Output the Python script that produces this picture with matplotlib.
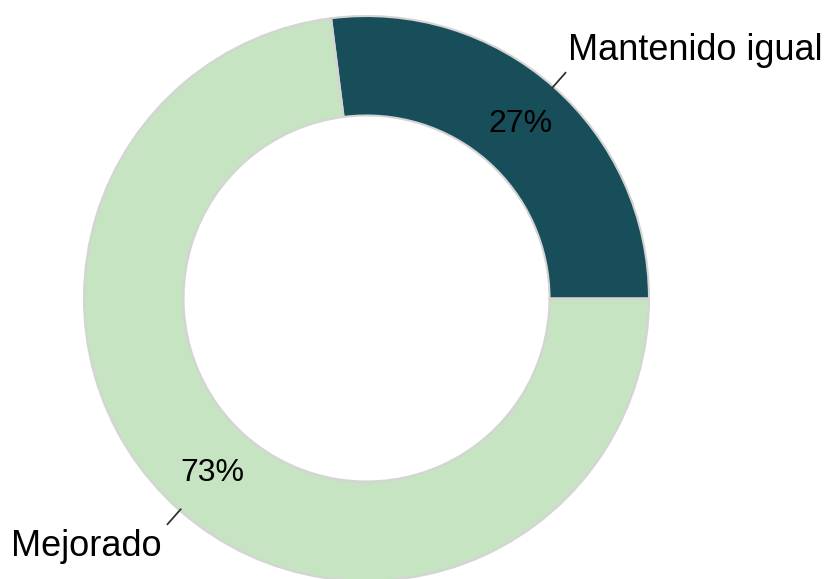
import numpy as np
import matplotlib
matplotlib.use('Agg')
import matplotlib.pyplot as plt

plt.rcParams['font.family'] = ['Liberation Sans', 'DejaVu Sans']

# Datos
categorias = ['Mantenido igual', 'Mejorado']
valores = [27, 73]
colores = ['#174E59', '#C6E3C2']

fig = plt.figure(figsize=(8.30, 5.79), dpi=100)
ax = fig.add_axes([0, 0, 1, 1])

# geometría en píxeles
cx, cy = 366.5, 280.5
radio = 282.5
ancho = radio - 183

wedges, _ = ax.pie(valores, colors=colores, startangle=0, counterclock=True,
                   radius=radio, center=(cx, cy),
                   wedgeprops=dict(width=ancho, edgecolor='#d4d4d4', linewidth=1.5))

r_pct = radio - ancho / 2
for w, v, cat in zip(wedges, valores, categorias):
    ang = np.deg2rad((w.theta1 + w.theta2) / 2)
    ca, sa = np.cos(ang), np.sin(ang)
    ax.text(cx + r_pct * ca, cy + r_pct * sa, f'{v}%', ha='center', va='center',
            fontsize=23, color='black')
    x0, y0 = cx + radio * 0.995 * ca, cy + radio * 0.995 * sa
    x1, y1 = cx + radio * 1.065 * ca, cy + radio * 1.065 * sa
    ax.plot([x0, x1], [y0, y1], color='#333333', lw=1.3)
    if ca > 0:
        ax.annotate(cat, xy=(x1, y1), xytext=(3, 5), textcoords='offset pixels',
                    ha='left', va='bottom', fontsize=26, color='black')
    else:
        ax.annotate(cat, xy=(x1, y1), xytext=(-6, -5), textcoords='offset pixels',
                    ha='right', va='top', fontsize=26, color='black')

ax.set_xlim(0, 830)
ax.set_ylim(0, 579)
ax.set_aspect('equal')
ax.axis('off')

fig.savefig('out.png', dpi=100, facecolor='white')
